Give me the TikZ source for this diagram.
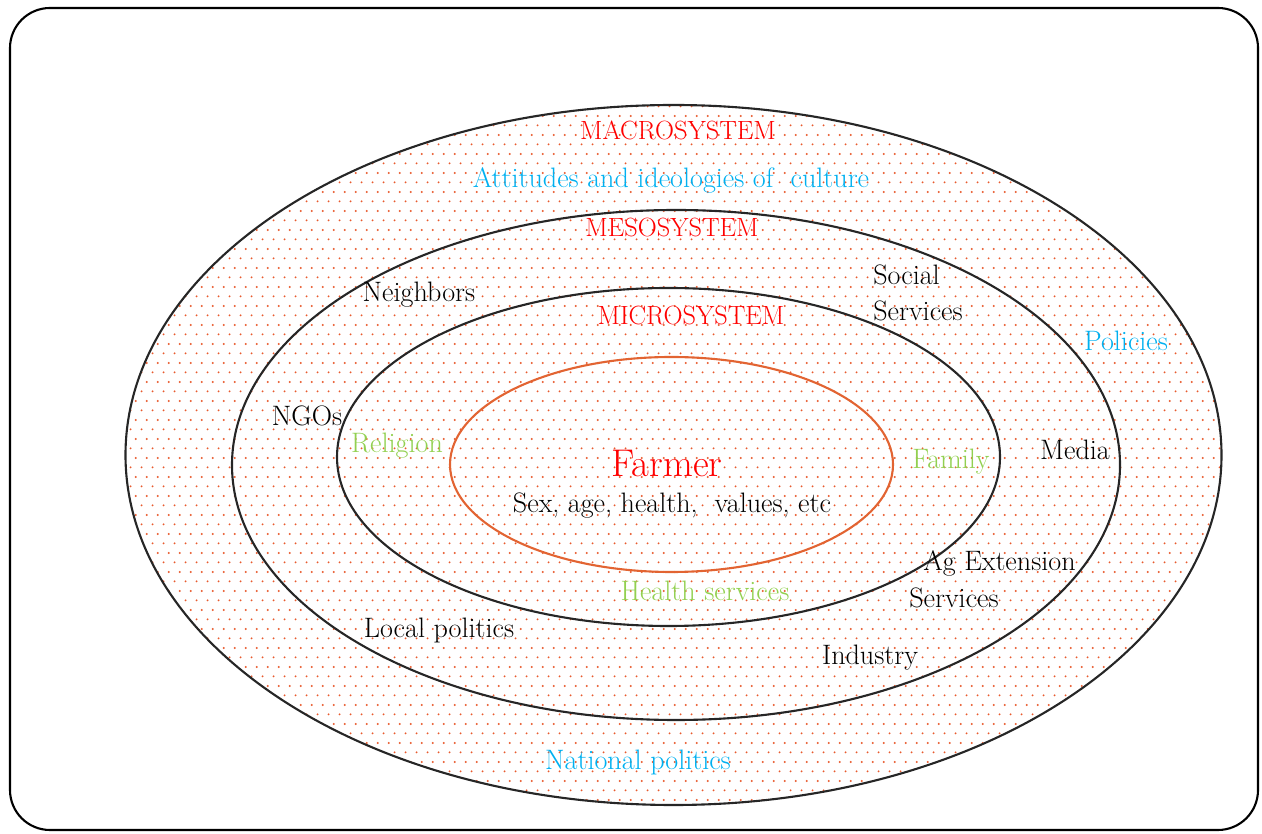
\documentclass[tikz,border=0pt]{standalone}
\usepackage{fontspec}
\usepackage{tikz}
\usetikzlibrary{patterns}

\definecolor{sysred}{RGB}{255,0,0}
\definecolor{culblue}{RGB}{0,176,240}
\definecolor{relgreen}{RGB}{146,208,80}
\definecolor{dotorange}{RGB}{232,90,45}
\definecolor{farmring}{RGB}{226,100,50}

\pgfdeclarepatternformonly{farmdots}{\pgfqpoint{0pt}{0pt}}{\pgfqpoint{6.07pt}{11pt}}{\pgfqpoint{6.07pt}{11pt}}{
  \pgfpathcircle{\pgfqpoint{1.5pt}{2.75pt}}{0.62pt}
  \pgfpathcircle{\pgfqpoint{4.535pt}{8.25pt}}{0.62pt}
  \pgfusepath{fill}
}

\begin{document}
\begin{tikzpicture}[
  ring/.style={line width=1.2pt, color=black!85},
  lbl/.style={font=\fontsize{16}{19}\selectfont, inner sep=0pt},
  sysname/.style={font=\fontsize{15}{18}\selectfont, inner sep=0pt, color=sysred},
  culture/.style={lbl, color=culblue},
  micro/.style={lbl, color=relgreen}]

\useasboundingbox (0,0) rectangle (25.24,16.66);

\draw[line width=1.2pt, rounded corners=0.8cm] (0.2,0.06) rectangle (25.16,16.5);

% dotted ground
\fill[pattern=farmdots, pattern color=dotorange] (13.47,7.56) ellipse (10.96cm and 7.0cm);

% the four systems
\draw[ring] (13.47,7.56) ellipse (10.96cm and 7.0cm);
\draw[ring] (13.52,7.36) ellipse (8.88cm and 5.1cm);
\draw[ring] (13.37,7.52) ellipse (6.63cm and 3.38cm);
\draw[line width=1.2pt, color=farmring] (13.43,7.37) ellipse (4.43cm and 2.15cm);

% macrosystem
\draw (13.56,14.06) node[sysname] (macro) {MACROSYSTEM};
\draw (13.42,13.06) node[culture] (attitudes) {Attitudes and ideologies of \ culture};
\draw (22.52,9.84) node[culture] (policies) {Policies};
\draw (12.76,1.42) node[culture] (natpol) {National politics};

% mesosystem
\draw (13.44,12.10) node[sysname] (meso) {MESOSYSTEM};
\draw (8.38,10.76) node[lbl] (neighbors) {Neighbors};
\draw (17.46,11.16) node[lbl, anchor=west] (social) {Social};
\draw (17.46,10.44) node[lbl, anchor=west] (socserv) {Services};
\draw (6.14,8.34) node[lbl] (ngos) {NGOs};
\draw (21.5,7.66) node[lbl] (media) {Media};
\draw (18.46,5.40) node[lbl, anchor=west] (agext) {Ag Extension};
\draw (18.18,4.70) node[lbl, anchor=west] (agserv) {Services};
\draw (8.78,4.06) node[lbl] (locpol) {Local politics};
\draw (17.40,3.50) node[lbl] (industry) {Industry};

% microsystem
\draw (13.82,10.34) node[sysname] (microsys) {MICROSYSTEM};
\draw (7.94,7.74) node[micro] (religion) {Religion};
\draw (19.02,7.42) node[micro] (family) {Family};
\draw (14.10,4.84) node[micro] (health) {Health services};

% farmer
\draw (13.34,7.40) node[inner sep=0pt, color=sysred, font=\fontsize{22}{26}\selectfont] (farmer) {Farmer};
\draw (13.44,6.54) node[lbl] (traits) {Sex, age, health, \ values, etc};

\end{tikzpicture}
\end{document}
